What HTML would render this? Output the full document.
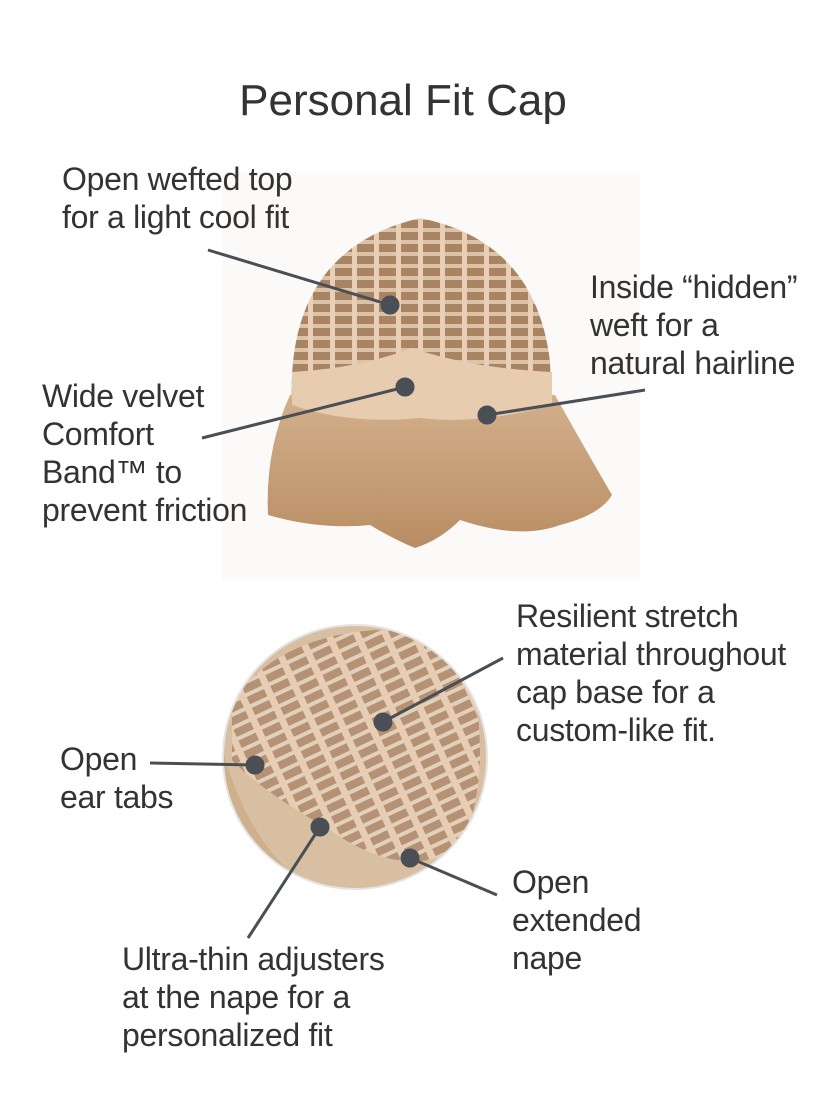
<!DOCTYPE html>
<html><head><meta charset="utf-8"><style>
html,body{margin:0;padding:0;background:#fff;}
.wrap{position:relative;width:840px;height:1120px;overflow:hidden;font-family:"Liberation Sans",sans-serif;color:#333;}
.t{position:absolute;font-size:32px;line-height:38px;white-space:nowrap;letter-spacing:-0.3px;}
.title{position:absolute;left:0;width:806px;top:76px;text-align:center;font-size:44px;}
svg{position:absolute;left:0;top:0;}
</style></head><body><div class="wrap">
<svg width="840" height="1120">
<defs>
<linearGradient id="hair" x1="0" y1="0" x2="0" y2="1"><stop offset="0" stop-color="#d2b08c"/><stop offset="1" stop-color="#b98d63"/></linearGradient>
<pattern id="weft" width="22" height="12" patternUnits="userSpaceOnUse"><rect width="22" height="12" fill="#a88462"/><rect y="0" width="22" height="4" fill="#dcc2a6"/><rect x="0" width="5" height="12" fill="#e8cfb6"/></pattern>
<pattern id="weft2" width="26" height="12" patternUnits="userSpaceOnUse" patternTransform="rotate(-25)"><rect width="26" height="12" fill="#b49273"/><rect width="26" height="4" fill="#e3d0bb"/><rect width="7" height="12" fill="#e6cdb3"/></pattern>
<clipPath id="circ"><circle cx="355" cy="757" r="132"/></clipPath>
</defs>
<rect x="222" y="172" width="418" height="408" fill="#fbfaf8"/>
<path d="M290 395 Q265 450 268 515 Q320 530 370 525 Q395 540 415 548 Q440 540 460 520 Q520 540 560 525 Q600 515 612 495 Q580 440 555 395 Z" fill="url(#hair)"/>
<path d="M292 405 Q285 250 420 218 Q555 245 552 405 Z" fill="url(#weft)"/>
<path d="M292 405 L292 372 Q360 368 412 348 Q470 368 552 372 L552 405 Q480 425 420 418 Q350 425 292 405 Z" fill="#e7ccb0"/>
<g clip-path="url(#circ)">
<rect x="220" y="620" width="270" height="270" fill="#d9bfa2"/>
<path d="M220 740 Q250 860 330 900 L220 900 Z" fill="#cfb08d"/>
<path d="M232 700 Q300 610 460 635 Q500 760 460 850 Q400 880 330 830 Q260 790 232 760 Z" fill="url(#weft2)"/>
</g>
<circle cx="355" cy="757" r="132" fill="none" stroke="#e4e4e4" stroke-width="2"/>
<g stroke="#4a4f55" stroke-width="3" fill="#4a4f55">
<line x1="208" y1="250" x2="390" y2="305"/><circle cx="390" cy="305" r="8"/>
<line x1="645" y1="390" x2="487" y2="415"/><circle cx="487" cy="415" r="8"/>
<line x1="202" y1="438" x2="405" y2="387"/><circle cx="405" cy="387" r="8"/>
<line x1="503" y1="658" x2="383" y2="722"/><circle cx="383" cy="722" r="8"/>
<line x1="150" y1="763" x2="255" y2="765"/><circle cx="255" cy="765" r="8"/>
<line x1="248" y1="938" x2="320" y2="827"/><circle cx="320" cy="827" r="8"/>
<line x1="497" y1="895" x2="410" y2="858"/><circle cx="410" cy="858" r="8"/>
</g>
</svg>
<div class="title">Personal Fit Cap</div>
<div class="t" style="left:62px;top:160px">Open wefted top<br>for a light cool fit</div>
<div class="t" style="left:590px;top:268px">Inside “hidden”<br>weft for a<br>natural hairline</div>
<div class="t" style="left:42px;top:377px">Wide velvet<br>Comfort<br>Band™ to<br>prevent friction</div>
<div class="t" style="left:516px;top:597px">Resilient stretch<br>material throughout<br>cap base for a<br>custom-like fit.</div>
<div class="t" style="left:60px;top:740px">Open<br>ear tabs</div>
<div class="t" style="left:512px;top:863px">Open<br>extended<br>nape</div>
<div class="t" style="left:122px;top:940px">Ultra-thin adjusters<br>at the nape for a<br>personalized fit</div>
</div></body></html>
